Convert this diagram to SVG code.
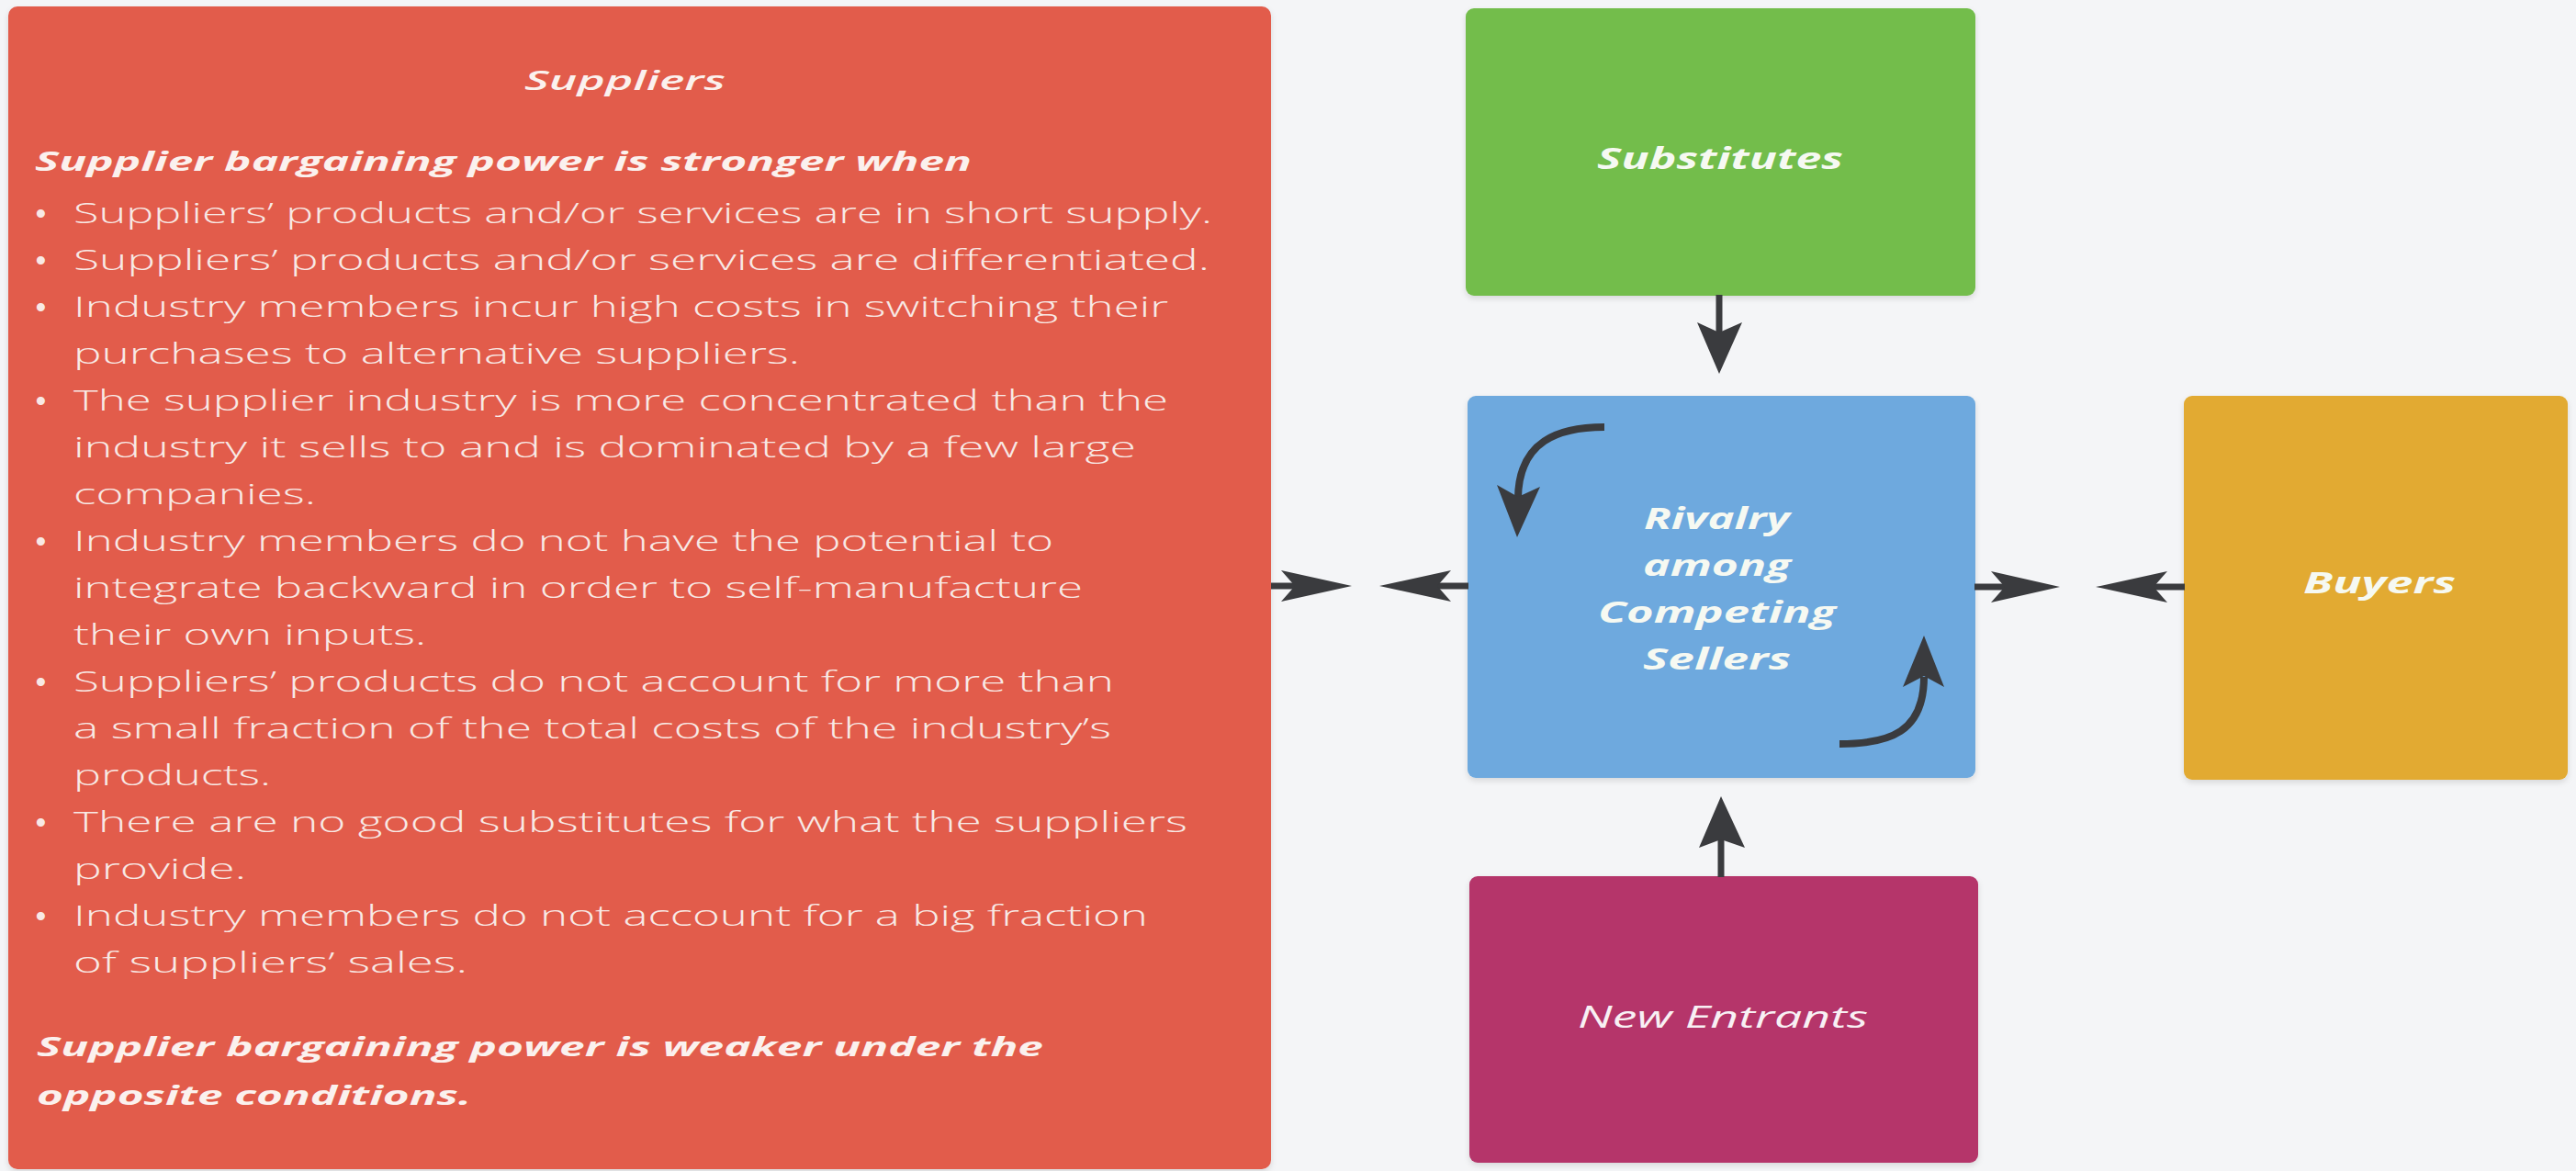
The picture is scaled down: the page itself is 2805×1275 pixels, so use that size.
<svg xmlns="http://www.w3.org/2000/svg" width="2805" height="1275" viewBox="0 0 2805 1275">
  <defs>
    <style>
      .bg { fill: #f4f5f7; }
      .box { stroke: none; }
      .body { font-family: "Open Sans", "Liberation Sans", sans-serif; font-weight: 300; font-size: 31px; fill: #f8e9e5; }
      .dot { font-family: "Liberation Sans", sans-serif; font-weight: 700; font-size: 31px; fill: #f8e9e5; }
      .head { font-family: "Open Sans", "Liberation Sans", sans-serif; font-weight: 700; font-style: italic; font-size: 28px; fill: #fbf1ee; }
      .title { font-family: "Open Sans", "Liberation Sans", sans-serif; font-weight: 600; font-style: italic; font-size: 29px; fill: #fbf1ee; }
      .label { font-family: "Open Sans", "Liberation Sans", sans-serif; font-weight: 700; font-style: italic; font-size: 32px; fill: #f6f9f2; }
      .label-light { font-family: "Open Sans", "Liberation Sans", sans-serif; font-weight: 500; font-style: italic; font-size: 32px; fill: #f8f0f4; }
      .shaft { stroke: #3a3b3e; stroke-width: 7; fill: none; }
      .curve { stroke: #3a3b3e; stroke-width: 8; fill: none; stroke-linecap: butt; }
      .head-tri { fill: #3a3b3e; }
    </style>
    <filter id="shadow" x="-5%" y="-5%" width="110%" height="115%">
      <feDropShadow dx="0" dy="3" stdDeviation="3" flood-color="#000" flood-opacity="0.12"/>
    </filter>
  </defs>

  <rect class="bg" x="0" y="0" width="2805" height="1275"/>

  <!-- Suppliers panel -->
  <g id="suppliers">
    <rect class="box" x="9" y="7" width="1375" height="1266" rx="10" fill="#e25c4c" filter="url(#shadow)"/>
    <text class="title" x="571" y="98" textLength="219" lengthAdjust="spacingAndGlyphs">Suppliers</text>
    <text class="head" x="38" y="186" textLength="1020" lengthAdjust="spacingAndGlyphs">Supplier bargaining power is stronger when</text>

    <g class="dot">
      <text x="39" y="243">•</text>
      <text x="39" y="294">•</text>
      <text x="39" y="345">•</text>
      <text x="39" y="447">•</text>
      <text x="39" y="600">•</text>
      <text x="39" y="753">•</text>
      <text x="39" y="906">•</text>
      <text x="39" y="1008">•</text>
    </g>

    <g class="body">
      <text x="80" y="243" textLength="1240" lengthAdjust="spacingAndGlyphs">Suppliers’ products and/or services are in short supply.</text>
      <text x="80" y="294" textLength="1237" lengthAdjust="spacingAndGlyphs">Suppliers’ products and/or services are differentiated.</text>
      <text x="80" y="345" textLength="1192" lengthAdjust="spacingAndGlyphs">Industry members incur high costs in switching their</text>
      <text x="80" y="396" textLength="791" lengthAdjust="spacingAndGlyphs">purchases to alternative suppliers.</text>
      <text x="80" y="447" textLength="1192" lengthAdjust="spacingAndGlyphs">The supplier industry is more concentrated than the</text>
      <text x="80" y="498" textLength="1157" lengthAdjust="spacingAndGlyphs">industry it sells to and is dominated by a few large</text>
      <text x="80" y="549" textLength="264" lengthAdjust="spacingAndGlyphs">companies.</text>
      <text x="80" y="600" textLength="1067" lengthAdjust="spacingAndGlyphs">Industry members do not have the potential to</text>
      <text x="80" y="651" textLength="1099" lengthAdjust="spacingAndGlyphs">integrate backward in order to self-manufacture</text>
      <text x="80" y="702" textLength="384" lengthAdjust="spacingAndGlyphs">their own inputs.</text>
      <text x="80" y="753" textLength="1133" lengthAdjust="spacingAndGlyphs">Suppliers’ products do not account for more than</text>
      <text x="80" y="804" textLength="1130" lengthAdjust="spacingAndGlyphs">a small fraction of the total costs of the industry’s</text>
      <text x="80" y="855" textLength="215" lengthAdjust="spacingAndGlyphs">products.</text>
      <text x="80" y="906" textLength="1213" lengthAdjust="spacingAndGlyphs">There are no good substitutes for what the suppliers</text>
      <text x="80" y="957" textLength="188" lengthAdjust="spacingAndGlyphs">provide.</text>
      <text x="80" y="1008" textLength="1170" lengthAdjust="spacingAndGlyphs">Industry members do not account for a big fraction</text>
      <text x="80" y="1059" textLength="429" lengthAdjust="spacingAndGlyphs">of suppliers’ sales.</text>
    </g>

    <text class="head" x="40" y="1150" textLength="1096" lengthAdjust="spacingAndGlyphs">Supplier bargaining power is weaker under the</text>
    <text class="head" x="40" y="1203" textLength="473" lengthAdjust="spacingAndGlyphs">opposite conditions.</text>
  </g>

  <!-- Substitutes -->
  <g id="substitutes">
    <rect class="box" x="1596" y="9" width="555" height="313" rx="9" fill="#73bd4b" filter="url(#shadow)"/>
    <text class="label" x="1739" y="184" textLength="268" lengthAdjust="spacingAndGlyphs">Substitutes</text>
  </g>

  <!-- Rivalry among competing sellers -->
  <g id="rivalry">
    <rect class="box" x="1598" y="431" width="553" height="416" rx="9" fill="#6ea9de" filter="url(#shadow)"/>
    <text class="label" x="1790" y="576" textLength="159" lengthAdjust="spacingAndGlyphs">Rivalry</text>
    <text class="label" x="1789" y="627" textLength="161" lengthAdjust="spacingAndGlyphs">among</text>
    <text class="label" x="1740" y="678" textLength="259" lengthAdjust="spacingAndGlyphs">Competing</text>
    <text class="label" x="1789" y="729" textLength="161" lengthAdjust="spacingAndGlyphs">Sellers</text>
  </g>

  <!-- Buyers -->
  <g id="buyers">
    <rect class="box" x="2378" y="431" width="418" height="418" rx="9" fill="#e2aa30" filter="url(#shadow)"/>
    <text class="label" x="2508" y="646" textLength="166" lengthAdjust="spacingAndGlyphs">Buyers</text>
  </g>

  <!-- New entrants -->
  <g id="new-entrants">
    <rect class="box" x="1600" y="954" width="554" height="312" rx="9" fill="#b5346a" filter="url(#shadow)"/>
    <text class="label-light" x="1718" y="1119" textLength="316" lengthAdjust="spacingAndGlyphs">New Entrants</text>
  </g>

  <!-- Connectors -->
  <g id="connectors">
    <!-- Suppliers <-> Rivalry -->
    <line class="shaft" x1="1384" y1="638" x2="1410" y2="638"/>
    <polygon class="head-tri" points="1472,638 1395,621 1410,638 1395,655"/>
    <line class="shaft" x1="1565" y1="638" x2="1599" y2="638"/>
    <polygon class="head-tri" points="1502,638 1580,621 1565,638 1580,655"/>

    <!-- Rivalry <-> Buyers -->
    <line class="shaft" x1="2150" y1="639" x2="2183" y2="639"/>
    <polygon class="head-tri" points="2243,639 2168,622 2183,639 2168,656"/>
    <line class="shaft" x1="2345" y1="639" x2="2379" y2="639"/>
    <polygon class="head-tri" points="2282,639 2360,622 2345,639 2360,656"/>

    <!-- Substitutes -> Rivalry -->
    <line class="shaft" x1="1872" y1="321" x2="1872" y2="364"/>
    <polygon class="head-tri" points="1872,407 1848,351 1872,362 1897,351"/>

    <!-- New entrants -> Rivalry -->
    <line class="shaft" x1="1874" y1="955" x2="1874" y2="912"/>
    <polygon class="head-tri" points="1874,867 1850,923 1874,914 1900,923"/>

    <!-- Rivalry cycle -->
    <path class="curve" d="M1747,465 C1697,465 1654,480 1653,542"/>
    <polygon class="head-tri" points="1652,585 1630,528 1653,541 1677,530"/>
    <path class="curve" d="M2003,810 C2058,810 2095,797 2095,737"/>
    <polygon class="head-tri" points="2095,692 2072,748 2095,736 2117,748"/>
  </g>
</svg>
